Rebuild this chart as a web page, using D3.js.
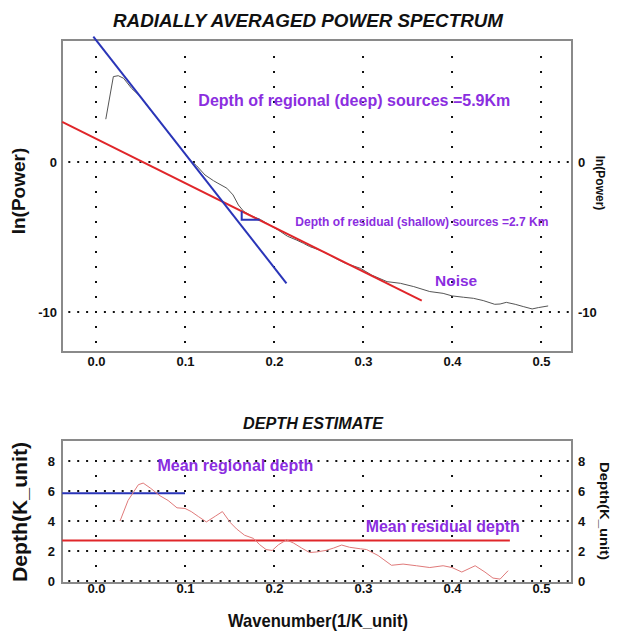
<!DOCTYPE html>
<html>
<head>
<meta charset="utf-8">
<script src="https://cdn.jsdelivr.net/npm/d3@7"></script>
<style>
  body { margin: 0; background: #fff; }
  svg text { font-family: "Liberation Sans", Arial, sans-serif; font-weight: bold; }
  .tick text { font-size: 13px; fill: #111; }
</style>
</head>
<body>
<div id="chart"></div>
<script>
// 1: DATA
// radially averaged power spectrum: wavenumber vs ln(power)
const specK = [0.011, 0.0195, 0.025, 0.031, 0.037, 0.040, 0.050, 0.060, 0.070, 0.080, 0.090, 0.1056,
    0.113, 0.1225, 0.132, 0.137, 0.147, 0.154, 0.160, 0.166, 0.175, 0.185, 0.195, 0.205, 0.215,
    0.225, 0.233, 0.240, 0.250, 0.259, 0.270, 0.280, 0.297, 0.310, 0.327, 0.342, 0.357, 0.375,
    0.390, 0.400, 0.413, 0.424, 0.435, 0.448, 0.454, 0.461, 0.471, 0.480, 0.490, 0.497, 0.508];
const specLnP = [2.85, 5.69, 5.75, 5.58, 5.13, 4.90, 4.35, 3.55, 2.82, 2.05, 1.30, 0.13,
    -0.25, -0.87, -1.25, -1.42, -1.75, -2.2, -2.87, -3.3, -3.6, -3.85, -4.2, -4.55, -4.95,
    -5.2, -5.42, -5.64, -5.85, -6.09, -6.45, -6.75, -7.09, -7.55, -7.98, -8.09, -8.31, -8.64,
    -8.76, -8.93, -9.02, -9.09, -9.24, -9.49, -9.47, -9.36, -9.49, -9.64, -9.80, -9.71, -9.60];

// fitted straight segments (end points)
const regionalFit = [[-0.003, 8.36], [0.214, -8.09]];
const residualFit = [[-0.038, 2.67], [0.366, -9.25]];
// little slope marker on the residual fit
const slopeMark = [[0.1637, -3.28], [0.1637, -3.85], [0.184, -3.85]];

// depth estimate curve
const depthK = [0.027, 0.036, 0.0476, 0.053, 0.061, 0.072, 0.081, 0.091, 0.100, 0.107, 0.115,
    0.124, 0.134, 0.142, 0.151, 0.158, 0.167, 0.177, 0.184, 0.191, 0.198, 0.205, 0.214, 0.222,
    0.231, 0.240, 0.248, 0.259, 0.267, 0.276, 0.285, 0.297, 0.304, 0.317, 0.332, 0.345, 0.360,
    0.375, 0.390, 0.400, 0.411, 0.426, 0.437, 0.446, 0.454, 0.463];
const depthVal = [4.0, 5.37, 6.42, 6.53, 6.2, 5.68, 5.37, 4.88, 4.84, 4.63, 4.3,
    3.94, 4.32, 4.63, 3.89, 3.47, 3.05, 2.84, 2.42, 2.1, 2.04, 2.42, 2.74, 2.53,
    2.2, 1.9, 1.94, 2.05, 2.2, 2.4, 2.25, 2.15, 2.1, 1.7, 1.05, 1.13, 1.02,
    0.9, 1.02, 0.9, 0.6, 1.02, 0.6, 0.2, 0.13, 0.69];
const meanRegional = [[-0.038, 5.85], [0.1, 5.85]];
const meanResidual = [[-0.038, 2.7], [0.465, 2.7]];

// ticks
const xTicks = [0, 0.1, 0.2, 0.3, 0.4, 0.5];
const powerTicks = [0, -10];
const depthTicks = [0, 2, 4, 6, 8];

// 2: CREATE BLANK SVG
const W = 624, H = 632;
const svg = d3.select("#chart").append("svg")
    .attr("width", W).attr("height", H);
svg.append("rect").attr("width", W).attr("height", H).attr("fill", "#fff");

// 3: SCALES
const left = 62, right = 572;
const x = d3.scaleLinear().domain([-0.0382, 0.5348]).range([left, right]);
const yTop = d3.scaleLinear().domain([-12.67, 8.13]).range([352, 40]);
const yBot = d3.scaleLinear().domain([-0.13, 9.4]).range([583, 440]);

const plain = d => String(d); // keep hyphen minus like the original ("-10")
const dotStyle = sel => sel.attr("stroke", "#111").attr("stroke-width", 2);

// dotted grid: dense horizontal rows, sparse vertical columns
function grid(y, rows, colFrom, colTo, colStep) {
    const g = svg.append("g");
    g.selectAll(".hrow").data(rows).enter().append("line")
        .attr("x1", x(-0.03) - 1).attr("x2", x(0.53) + 1)
        .attr("y1", d => y(d)).attr("y2", d => y(d))
        .attr("stroke-dasharray", `2 ${x(0.01) - x(0) - 2}`)
        .call(dotStyle);
    const step = Math.abs(y(0) - y(colStep));
    g.selectAll(".vcol").data(xTicks).enter().append("line")
        .attr("x1", d => x(d)).attr("x2", d => x(d))
        .attr("y1", y(colFrom) - 1).attr("y2", y(colTo) + 1)
        .attr("stroke-dasharray", `2 ${step - 2}`)
        .call(dotStyle);
}

// 4: TOP PANEL - POWER SPECTRUM
grid(yTop, powerTicks, 7, -12, 1);
svg.append("rect")
    .attr("x", left).attr("y", 40).attr("width", right - left).attr("height", 312)
    .attr("fill", "none").attr("stroke", "#8a8a8a").attr("stroke-width", 2);

const lineTop = d3.line().x(d => x(d[0])).y(d => yTop(d[1]));

svg.append("path")
    .datum(specK.map((k, i) => [k, specLnP[i]]))
    .attr("d", lineTop)
    .attr("fill", "none").attr("stroke", "#555").attr("stroke-width", 1);

svg.append("path").datum(residualFit).attr("d", lineTop)
    .attr("stroke", "#e0262a").attr("stroke-width", 2);
svg.append("path").datum(regionalFit).attr("d", lineTop)
    .attr("stroke", "#2a35b8").attr("stroke-width", 2);
svg.append("path").datum(slopeMark).attr("d", lineTop)
    .attr("fill", "none").attr("stroke", "#2a35b8").attr("stroke-width", 2);

// axes (labels only, no tick marks)
svg.append("g").attr("transform", "translate(0,352)")
    .call(d3.axisBottom(x).tickValues(xTicks).tickSize(0).tickPadding(5).tickFormat(d3.format(".1f")));
svg.append("g").attr("transform", `translate(${left},0)`)
    .call(d3.axisLeft(yTop).tickValues(powerTicks).tickSize(0).tickPadding(5).tickFormat(plain));
svg.append("g").attr("transform", `translate(${right},0)`)
    .call(d3.axisRight(yTop).tickValues(powerTicks).tickSize(0).tickPadding(6).tickFormat(plain));

// 5: BOTTOM PANEL - DEPTH ESTIMATE
grid(yBot, depthTicks, 7, 1, 2);
svg.append("rect")
    .attr("x", left).attr("y", 440).attr("width", right - left).attr("height", 143)
    .attr("fill", "none").attr("stroke", "#8a8a8a").attr("stroke-width", 2);

const lineBot = d3.line().x(d => x(d[0])).y(d => yBot(d[1]));

svg.append("path").datum(meanRegional).attr("d", lineBot)
    .attr("stroke", "#2a35b8").attr("stroke-width", 2);
svg.append("path").datum(meanResidual).attr("d", lineBot)
    .attr("stroke", "#e0262a").attr("stroke-width", 2);
svg.append("path")
    .datum(depthK.map((k, i) => [k, depthVal[i]]))
    .attr("d", lineBot)
    .attr("fill", "none").attr("stroke", "#e07a7a").attr("stroke-width", 1);

svg.append("g").attr("transform", "translate(0,583)")
    .call(d3.axisBottom(x).tickValues(xTicks).tickSize(0).tickPadding(1).tickFormat(d3.format(".1f")));
svg.append("g").attr("transform", `translate(${left},0)`)
    .call(d3.axisLeft(yBot).tickValues(depthTicks).tickSize(0).tickPadding(7).tickFormat(plain));
svg.append("g").attr("transform", `translate(${right},0)`)
    .call(d3.axisRight(yBot).tickValues(depthTicks).tickSize(0).tickPadding(6).tickFormat(plain));

svg.selectAll(".domain").remove();

// 6: LABELS
const txt = (t, px, py, size, opts = {}) => {
    const s = svg.append("text").attr("x", px).attr("y", py)
        .attr("font-size", size).attr("text-anchor", opts.anchor || "middle")
        .attr("fill", opts.fill || "#111").text(t);
    if (opts.italic) s.attr("font-style", "italic");
    if (opts.rotate) s.attr("transform", `rotate(${opts.rotate},${px},${py})`);
    if (opts.len) s.attr("textLength", opts.len).attr("lengthAdjust", "spacingAndGlyphs");
    return s;
};

txt("RADIALLY AVERAGED POWER SPECTRUM", 308, 27, 18, { italic: true, len: 390 });
txt("In(Power)", 25, 191, 19, { rotate: -90 });
txt("In(Power)", 596, 183, 12, { rotate: 90 });

txt("DEPTH ESTIMATE", 313, 429, 16, { italic: true, len: 140 });
txt("Depth(K_unit)", 27, 512, 20, { rotate: -90, len: 140 });
txt("Depth(K_unit)", 600, 511, 13, { rotate: 90, len: 98 });
txt("Wavenumber(1/K_unit)", 318, 627, 19, { len: 180 });

// purple annotations placed in data units
const purple = "#8b2ee0";
txt("Depth of regional (deep) sources =5.9Km", x(0.115), yTop(3.7), 17,
    { anchor: "start", fill: purple, len: 312 });
txt("Depth of residual (shallow) sources =2.7 Km", x(0.224), yTop(-4.25), 12.5,
    { anchor: "start", fill: purple, len: 253 });
txt("Noise", x(0.381), yTop(-8.25), 15, { anchor: "start", fill: purple, len: 42 });
txt("Mean regional depth", x(0.069), yBot(7.35), 16, { anchor: "start", fill: purple, len: 156 });
txt("Mean residual depth", x(0.303), yBot(3.25), 16, { anchor: "start", fill: purple, len: 154 });
</script>
</body>
</html>
